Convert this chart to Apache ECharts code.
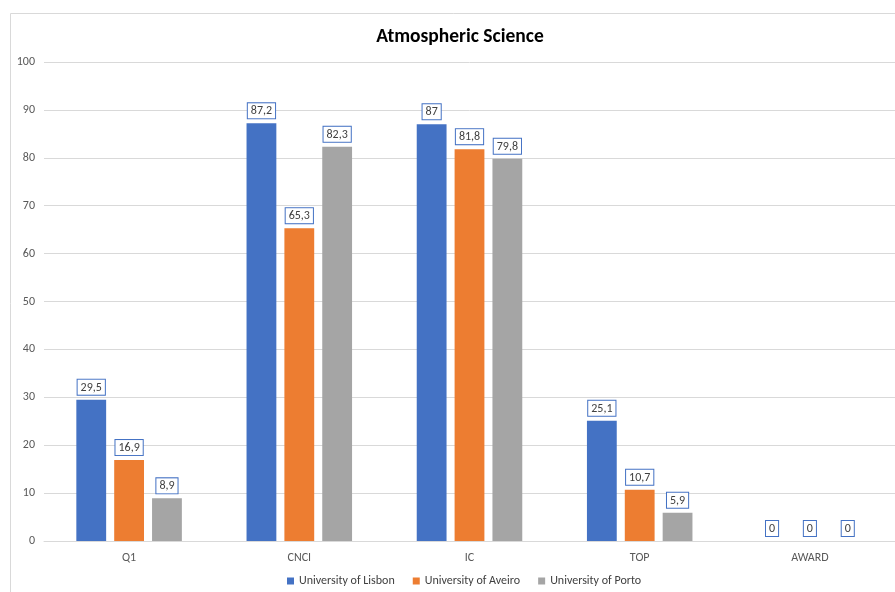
<!DOCTYPE html>
<html><head><meta charset="utf-8">
<script src="https://cdn.jsdelivr.net/npm/echarts@6/dist/echarts.min.js"></script>
<style>html,body{margin:0;padding:0;background:#fff}#c{width:895px;height:592px}</style>
</head><body><div id="c"></div>
<script>
const categories = ['Q1', 'CNCI', 'IC', 'TOP', 'AWARD'];
const lisbon = [29.5, 87.2, 87, 25.1, 0];
const aveiro = [16.9, 65.3, 81.8, 10.7, 0];
const porto = [8.9, 82.3, 79.8, 5.9, 0];
const yTicks = [0, 10, 20, 30, 40, 50, 60, 70, 80, 90, 100];

const font = 'Calibri, "Carlito", "Open Sans", "Noto Sans", sans-serif';
const labelCfg = {
  show: true, position: 'top', distance: 5,
  formatter: p => String(p.value).replace('.', ','),
  color: '#404040', fontSize: 12, fontFamily: font,
  backgroundColor: '#fff', borderColor: '#4472c4', borderWidth: 1,
  padding: [2, 3, 1, 3]
};
function mk(name, data, color) {
  return { name, type: 'bar', data, itemStyle: { color }, label: labelCfg,
    barGap: '27%', barCategoryGap: '38%' };
}
const chart = echarts.init(document.getElementById('c'));
chart.setOption({
  animation: false,
  title: { text: 'Atmospheric Science', left: 455, top: 22, textAlign: 'center',
    textStyle: { fontSize: 19.5, fontWeight: 'bold', color: '#000', fontFamily: font } },
  graphic: [{ type: 'polyline', shape: { points: [[10.5, 600], [10.5, 13.5], [900, 13.5]] },
    style: { stroke: '#d9d9d9', lineWidth: 1, fill: null } }],
  legend: { bottom: 0, left: 282, itemWidth: 7, itemHeight: 7, itemGap: 18,
    icon: 'rect', textStyle: { fontSize: 12, color: '#404040', fontFamily: font } },
  grid: { left: 44, right: 0, top: 62, bottom: 51, containLabel: false },
  xAxis: { type: 'category', data: categories,
    axisLine: { lineStyle: { color: '#d9d9d9' } }, axisTick: { show: false },
    axisLabel: { color: '#595959', fontSize: 12, margin: 11, fontFamily: font } },
  yAxis: { type: 'value', min: 0, max: 100, interval: 10,
    axisLabel: { color: '#595959', fontSize: 12, margin: 9, fontFamily: font,
      formatter: v => yTicks.includes(v) ? String(v) : '' },
    splitLine: { lineStyle: { color: '#d9d9d9' } }, axisLine: { show: false }, axisTick: { show: false } },
  series: [
    mk('University of Lisbon', lisbon, '#4472c4'),
    mk('University of Aveiro', aveiro, '#ed7d31'),
    mk('University of Porto', porto, '#a5a5a5')
  ]
});
</script></body></html>
